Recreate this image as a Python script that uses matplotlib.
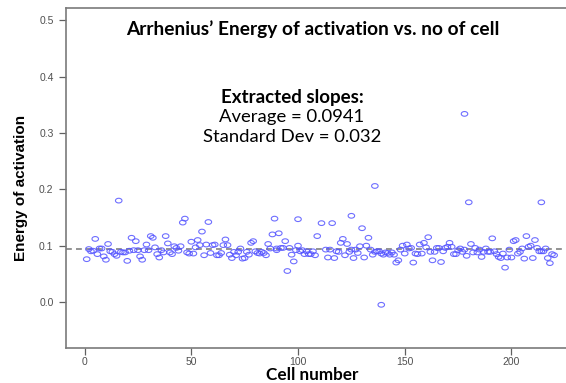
import numpy as np
import matplotlib
matplotlib.use("Agg")
import matplotlib.pyplot as plt
from matplotlib.path import Path

# ---- data ----
cells = [1, 2, 3, 4, 5, 6, 7, 8, 9, 10, 11, 12, 13, 14, 15, 16, 17, 18, 19, 20,
         21, 22, 23, 24, 25, 26, 27, 28, 29, 30, 31, 32, 33, 34, 35, 36, 37, 38, 39, 40,
         41, 42, 43, 44, 45, 46, 47, 48, 49, 50, 51, 52, 53, 54, 55, 56, 57, 58, 59, 60,
         61, 62, 63, 64, 65, 66, 67, 68, 69, 70, 71, 72, 73, 74, 75, 76, 77, 78, 79, 80,
         81, 82, 83, 84, 85, 86, 87, 88, 89, 90, 90, 91, 92, 93, 94, 95, 96, 97, 98, 99,
         100, 100, 101, 102, 103, 104, 105, 106, 107, 108, 109, 111, 113, 114, 115, 116, 117, 118, 119, 120,
         121, 122, 123, 124, 125, 125, 126, 127, 128, 129, 130, 131, 132, 133, 134, 135, 136, 136, 137, 138,
         139, 139, 140, 141, 142, 143, 144, 145, 146, 147, 148, 149, 150, 151, 152, 153, 154, 155, 156, 157,
         158, 159, 160, 161, 162, 163, 164, 165, 166, 167, 168, 169, 170, 171, 172, 173, 174, 175, 176, 177,
         178, 178, 179, 180, 181, 182, 183, 184, 185, 186, 187, 188, 189, 190, 191, 192, 193, 194, 195, 196,
         197, 198, 199, 200, 201, 202, 203, 204, 205, 206, 207, 208, 209, 210, 211, 212, 213, 214, 214, 215,
         216, 217, 218, 219, 220]
energy = [0.076, 0.094, 0.090, 0.091, 0.112, 0.085, 0.095, 0.095, 0.081, 0.075, 0.103, 0.090, 0.089, 0.085, 0.082, 0.180, 0.089, 0.088, 0.088, 0.073,
          0.091, 0.114, 0.092, 0.108, 0.092, 0.081, 0.075, 0.092, 0.102, 0.092, 0.117, 0.114, 0.097, 0.085, 0.079, 0.092, 0.088, 0.117, 0.104, 0.088,
          0.085, 0.099, 0.096, 0.091, 0.099, 0.141, 0.148, 0.088, 0.086, 0.107, 0.086, 0.097, 0.110, 0.101, 0.125, 0.083, 0.102, 0.142, 0.087, 0.101,
          0.102, 0.083, 0.083, 0.087, 0.101, 0.111, 0.101, 0.084, 0.078, 0.089, 0.083, 0.089, 0.095, 0.077, 0.078, 0.089, 0.084, 0.105, 0.108, 0.090,
          0.087, 0.086, 0.089, 0.087, 0.083, 0.103, 0.095, 0.120, 0.148, 0.092, 0.095, 0.122, 0.096, 0.096, 0.108, 0.055, 0.096, 0.084, 0.072, 0.092,
          0.147, 0.100, 0.090, 0.092, 0.085, 0.090, 0.085, 0.085, 0.090, 0.083, 0.117, 0.140, 0.093, 0.079, 0.093, 0.140, 0.078, 0.090, 0.089, 0.105,
          0.112, 0.083, 0.103, 0.089, 0.153, 0.093, 0.078, 0.093, 0.087, 0.099, 0.131, 0.079, 0.100, 0.114, 0.093, 0.084, 0.206, 0.089, 0.090, 0.090,
          -0.005, 0.086, 0.084, 0.088, 0.087, 0.084, 0.088, 0.084, 0.070, 0.074, 0.093, 0.100, 0.086, 0.102, 0.095, 0.096, 0.070, 0.086, 0.085, 0.102,
          0.086, 0.105, 0.097, 0.115, 0.089, 0.074, 0.089, 0.096, 0.096, 0.071, 0.090, 0.096, 0.098, 0.105, 0.098, 0.085, 0.085, 0.092, 0.095, 0.089,
          0.334, 0.093, 0.082, 0.177, 0.103, 0.088, 0.096, 0.088, 0.093, 0.080, 0.089, 0.095, 0.089, 0.089, 0.113, 0.090, 0.085, 0.080, 0.078, 0.086,
          0.061, 0.079, 0.093, 0.079, 0.108, 0.110, 0.086, 0.089, 0.095, 0.077, 0.117, 0.098, 0.100, 0.078, 0.110, 0.096, 0.090, 0.177, 0.090, 0.090,
          0.095, 0.078, 0.069, 0.085, 0.083]
average = 0.0941
std_dev = 0.032
x_ticks = [0, 50, 100, 150, 200]
y_ticks = [0.0, 0.1, 0.2, 0.3, 0.4, 0.5]

title_text = "Arrhenius\u2019 Energy of activation vs. no of cell"
x_label = "Cell number"
y_label = "Energy of activation"

# ---- figure ----
W, H = 566, 383
fig = plt.figure(figsize=(W / 100, H / 100), dpi=100)
ax = fig.add_axes([66 / W, 35 / H, 1 - 66 / W + 0.01, (348 - 8) / H])

# slightly flattened open circle marker (as in the reference)
theta = np.linspace(0, 2 * np.pi, 40)
ell = Path(np.column_stack([np.cos(theta), 0.72 * np.sin(theta)]), closed=True)

ax.scatter(cells, energy, marker=ell, s=22, facecolors="none",
           edgecolors="#5555ff", linewidths=0.8, alpha=0.85, zorder=3)
ax.axhline(average, color="#808080", linestyle=(0, (3.5, 2.5)), linewidth=1.2, zorder=2)

ax.set_xlim(-8.7, 228.2)
ax.set_ylim(-0.0817, 0.522)
ax.set_xticks(x_ticks)
ax.set_yticks(y_ticks)
ax.set_xticklabels([str(t) for t in x_ticks])
ax.set_yticklabels([f"{t:.1f}" for t in y_ticks])
ax.tick_params(axis="both", direction="out", length=5, width=0.9, colors="#606060",
               labelsize=7.5, labelcolor="#505050", pad=4)
ax.tick_params(axis="x", pad=1.5)
for lab in ax.get_xticklabels() + ax.get_yticklabels():
    lab.set_family(["Liberation Sans", "DejaVu Sans"])

for side in ["left", "bottom", "top"]:
    ax.spines[side].set_color("#7a7a7a")
    ax.spines[side].set_linewidth(1.2)
ax.spines["right"].set_visible(False)

fam = ["Lato", "DejaVu Sans"]
fig.text(21 / W, 1 - 188 / H, y_label, rotation=90, ha="center", va="center",
         fontsize=11, fontweight="bold", family=["Liberation Sans", "DejaVu Sans"])
fig.text(312 / W, 0.5 / H, x_label, ha="center", va="bottom",
         fontsize=12.3, fontweight="bold", family=fam)
fig.text(313 / W, 1 - 29 / H, title_text, ha="center", va="center",
         fontsize=13.8, fontweight="bold", family=fam)

fig.text(292 / W, 1 - 97 / H, "Extracted slopes:", ha="center", va="center",
         fontsize=13.5, fontweight="bold", family=fam)
fig.text(292 / W, 1 - 117 / H, f"Average = {average}", ha="center", va="center",
         fontsize=13.3, family=fam)
fig.text(292 / W, 1 - 137 / H, f"Standard Dev = {std_dev}", ha="center", va="center",
         fontsize=13.3, family=fam)

fig.savefig("out.png", dpi=100)
